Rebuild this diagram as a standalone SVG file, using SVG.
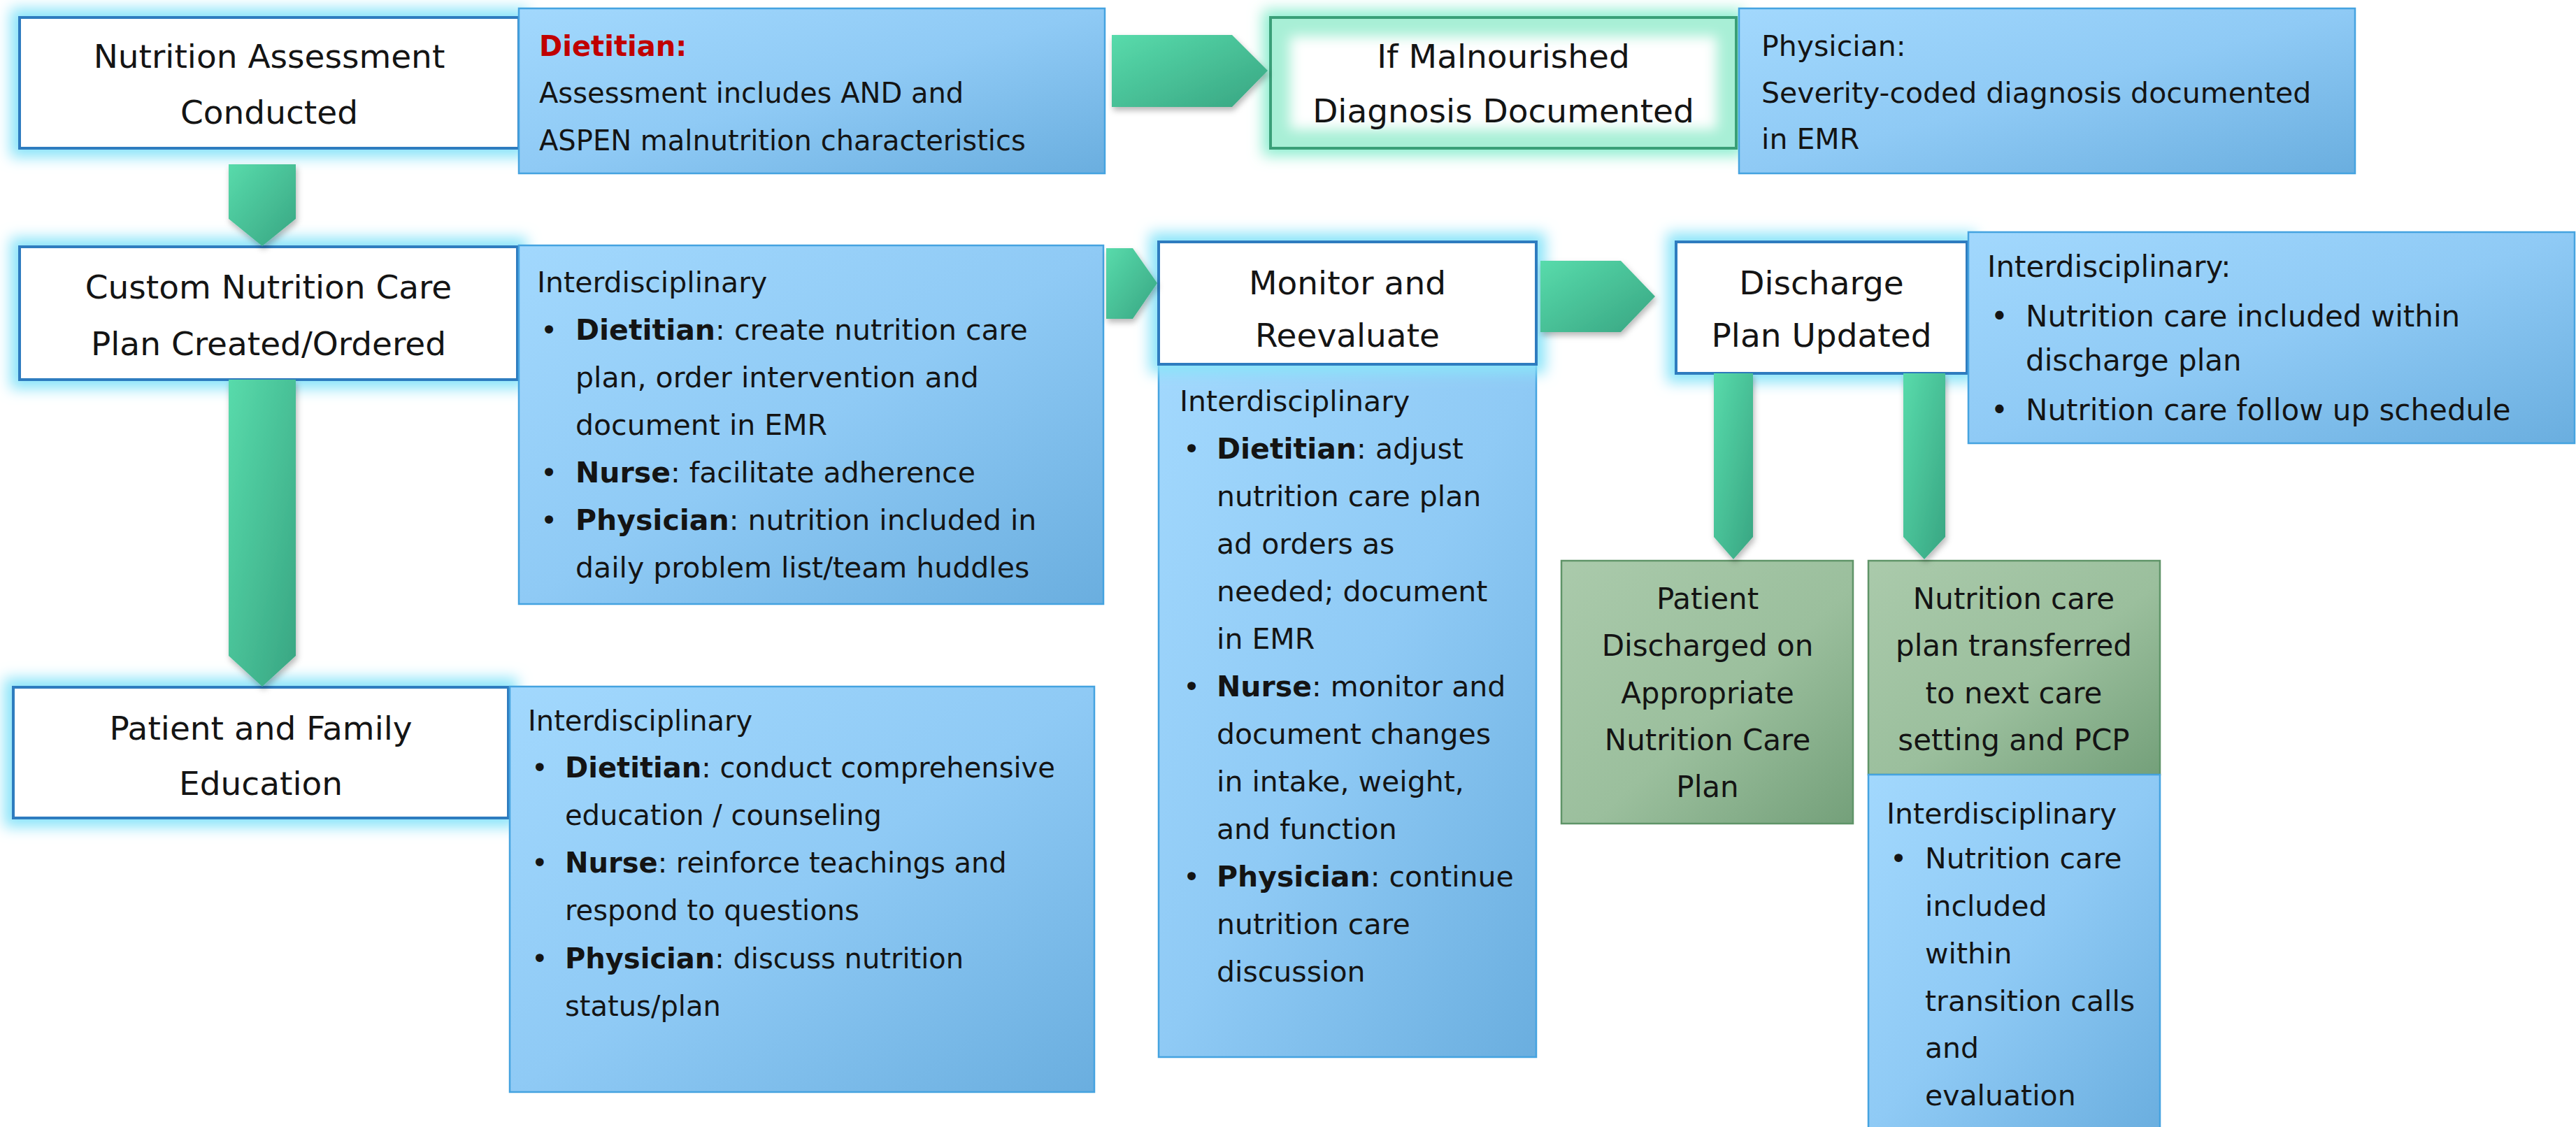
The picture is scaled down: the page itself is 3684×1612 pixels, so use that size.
<svg xmlns="http://www.w3.org/2000/svg" width="3684" height="1612" viewBox="0 0 3684 1612">
<style>
.t{font-family:"DejaVu Sans","Liberation Sans",sans-serif;fill:#141414}
.title{font-size:47px;text-anchor:middle}
.body{font-size:41px}
.body40{font-size:40px}
.body42{font-size:42px}
.g{font-size:42px;text-anchor:middle}
.b{font-weight:bold}
.wbox{fill:#ffffff;stroke:#2f7cbf;stroke-width:4}
.blue{fill:url(#blueGrad);stroke:#45a3e0;stroke-width:2.5}
.green{fill:url(#greenGrad);stroke:#5f9468;stroke-width:2.5}
.arrow{fill:url(#arrowGrad);filter:url(#shadow)}
</style>
<defs>
<linearGradient id="blueGrad" x1="0" y1="0" x2="1" y2="1">
<stop offset="0" stop-color="#a2d8fd"/>
<stop offset="0.5" stop-color="#8fcaf5"/>
<stop offset="1" stop-color="#6aaedf"/>
</linearGradient>
<linearGradient id="greenGrad" x1="0" y1="0" x2="1" y2="1">
<stop offset="0" stop-color="#aacaab"/>
<stop offset="0.55" stop-color="#9bbf9d"/>
<stop offset="1" stop-color="#74a07a"/>
</linearGradient>
<linearGradient id="arrowGrad" x1="0" y1="0" x2="1" y2="1">
<stop offset="0" stop-color="#58dbab"/>
<stop offset="1" stop-color="#38a582"/>
</linearGradient>
<filter id="glowBlue" x="-15%" y="-35%" width="130%" height="170%">
<feMorphology in="SourceAlpha" operator="dilate" radius="11" result="d"/>
<feGaussianBlur in="d" stdDeviation="10" result="bl"/>
<feFlood flood-color="#8ae4f9"/>
<feComposite in2="bl" operator="in" result="gl"/>
<feMerge><feMergeNode in="gl"/><feMergeNode in="SourceGraphic"/></feMerge>
</filter>
<filter id="glowGreen" x="-15%" y="-35%" width="130%" height="170%">
<feMorphology in="SourceAlpha" operator="dilate" radius="11" result="d"/>
<feGaussianBlur in="d" stdDeviation="10" result="bl"/>
<feFlood flood-color="#8eeed0"/>
<feComposite in2="bl" operator="in" result="gl"/>
<feMerge><feMergeNode in="gl"/><feMergeNode in="SourceGraphic"/></feMerge>
</filter>
<filter id="soft" x="-20%" y="-20%" width="140%" height="140%">
<feGaussianBlur stdDeviation="9"/>
</filter>
<filter id="shadow" x="-20%" y="-20%" width="140%" height="150%">
<feDropShadow dx="2" dy="5" stdDeviation="4" flood-color="#000000" flood-opacity="0.28"/>
</filter>
</defs>

<rect x="0" y="0" width="3684" height="1612" fill="#ffffff"/>

<!-- Row 1 -->
<g id="node-assessment">
<rect class="wbox" x="28" y="25" width="714" height="187" filter="url(#glowBlue)"/>
<text class="t title" x="385" y="97">Nutrition Assessment</text>
<text class="t title" x="385" y="177">Conducted</text>
</g>
<g id="info-dietitian">
<rect class="blue" x="742" y="12" width="838" height="236"/>
<text class="t body40 b" x="771" y="80" style="fill:#c00000">Dietitian:</text>
<text class="t body40" x="771" y="147">Assessment includes AND and</text>
<text class="t body40" x="771" y="215">ASPEN malnutrition characteristics</text>
</g>
<g id="node-malnourished">
<rect x="1817" y="25" width="666" height="187" fill="#a8efd6" filter="url(#glowGreen)"/>
<rect x="1845" y="52" width="610" height="133" fill="#ffffff" filter="url(#soft)"/>
<rect x="1817" y="25" width="666" height="187" fill="none" stroke="#3a9f78" stroke-width="4"/>
<text class="t title" x="2150" y="97">If Malnourished</text>
<text class="t title" x="2150" y="175">Diagnosis Documented</text>
</g>
<g id="info-physician">
<rect class="blue" x="2487" y="12" width="881" height="236"/>
<text class="t body" x="2519" y="80">Physician:</text>
<text class="t body" x="2519" y="147">Severity-coded diagnosis documented</text>
<text class="t body" x="2519" y="213">in EMR</text>
</g>

<!-- Row 2 -->
<g id="node-careplan">
<rect class="wbox" x="28" y="353" width="712" height="190" filter="url(#glowBlue)"/>
<text class="t title" x="384" y="427">Custom Nutrition Care</text>
<text class="t title" x="384" y="508">Plan Created/Ordered</text>
</g>
<g id="info-careplan">
<rect class="blue" x="742" y="351" width="836" height="513"/>
<text class="t body" x="768" y="418">Interdisciplinary</text>
<text class="t body" x="773" y="486">•</text>
<text class="t body" x="823" y="486"><tspan class="b">Dietitian</tspan>: create nutrition care</text>
<text class="t body" x="823" y="554">plan, order intervention and</text>
<text class="t body" x="823" y="622">document in EMR</text>
<text class="t body" x="773" y="690">•</text>
<text class="t body" x="823" y="690"><tspan class="b">Nurse</tspan>: facilitate adherence</text>
<text class="t body" x="773" y="758">•</text>
<text class="t body" x="823" y="758"><tspan class="b">Physician</tspan>: nutrition included in</text>
<text class="t body" x="823" y="826">daily problem list/team huddles</text>
</g>

<g id="node-monitor">
<rect class="blue" x="1657" y="521" width="540" height="991"/>
<rect class="wbox" x="1657" y="346" width="540" height="175" filter="url(#glowBlue)"/>
<text class="t title" x="1927" y="421">Monitor and</text>
<text class="t title" x="1927" y="496">Reevaluate</text>
<text class="t body" x="1687" y="588">Interdisciplinary</text>
<text class="t body" x="1692" y="656">•</text>
<text class="t body" x="1740" y="656"><tspan class="b">Dietitian</tspan>: adjust</text>
<text class="t body" x="1740" y="724">nutrition care plan</text>
<text class="t body" x="1740" y="792">ad orders as</text>
<text class="t body" x="1740" y="860">needed; document</text>
<text class="t body" x="1740" y="928">in EMR</text>
<text class="t body" x="1692" y="996">•</text>
<text class="t body" x="1740" y="996"><tspan class="b">Nurse</tspan>: monitor and</text>
<text class="t body" x="1740" y="1064">document changes</text>
<text class="t body" x="1740" y="1132">in intake, weight,</text>
<text class="t body" x="1740" y="1200">and function</text>
<text class="t body" x="1692" y="1268">•</text>
<text class="t body" x="1740" y="1268"><tspan class="b">Physician</tspan>: continue</text>
<text class="t body" x="1740" y="1336">nutrition care</text>
<text class="t body" x="1740" y="1404">discussion</text>
</g>

<g id="node-discharge">
<rect class="wbox" x="2397" y="346" width="416" height="188" filter="url(#glowBlue)"/>
<text class="t title" x="2605" y="421">Discharge</text>
<text class="t title" x="2605" y="496">Plan Updated</text>
</g>
<g id="info-discharge">
<rect class="blue" x="2815" y="332" width="867" height="302"/>
<text class="t body42" x="2842" y="396">Interdisciplinary:</text>
<text class="t body42" x="2847" y="467">•</text>
<text class="t body42" x="2897" y="467">Nutrition care included within</text>
<text class="t body42" x="2897" y="530">discharge plan</text>
<text class="t body42" x="2847" y="601">•</text>
<text class="t body42" x="2897" y="601">Nutrition care follow up schedule</text>
</g>

<g id="node-discharged">
<rect class="green" x="2233" y="802" width="417" height="376"/>
<text class="t g" x="2442" y="871">Patient</text>
<text class="t g" x="2442" y="938">Discharged on</text>
<text class="t g" x="2442" y="1006">Appropriate</text>
<text class="t g" x="2442" y="1073">Nutrition Care</text>
<text class="t g" x="2442" y="1140">Plan</text>
</g>
<g id="node-transferred">
<rect class="green" x="2672" y="802" width="417" height="306"/>
<text class="t g" x="2880" y="871">Nutrition care</text>
<text class="t g" x="2880" y="938">plan transferred</text>
<text class="t g" x="2880" y="1006">to next care</text>
<text class="t g" x="2880" y="1073">setting and PCP</text>
</g>
<g id="info-transition">
<rect class="blue" x="2672" y="1108" width="417" height="512"/>
<text class="t body" x="2698" y="1178">Interdisciplinary</text>
<text class="t body" x="2703" y="1242">•</text>
<text class="t body" x="2753" y="1242">Nutrition care</text>
<text class="t body" x="2753" y="1310">included</text>
<text class="t body" x="2753" y="1378">within</text>
<text class="t body" x="2753" y="1446">transition calls</text>
<text class="t body" x="2753" y="1513">and</text>
<text class="t body" x="2753" y="1581">evaluation</text>
</g>

<!-- Row 3 -->
<g id="node-education">
<rect class="wbox" x="19" y="983" width="708" height="187" filter="url(#glowBlue)"/>
<text class="t title" x="373" y="1058">Patient and Family</text>
<text class="t title" x="373" y="1137">Education</text>
</g>
<g id="info-education">
<rect class="blue" x="729" y="982" width="836" height="580"/>
<text class="t body40" x="755" y="1045">Interdisciplinary</text>
<text class="t body40" x="760" y="1112">•</text>
<text class="t body40" x="808" y="1112"><tspan class="b">Dietitian</tspan>: conduct comprehensive</text>
<text class="t body40" x="808" y="1180">education / counseling</text>
<text class="t body40" x="760" y="1248">•</text>
<text class="t body40" x="808" y="1248"><tspan class="b">Nurse</tspan>: reinforce teachings and</text>
<text class="t body40" x="808" y="1316">respond to questions</text>
<text class="t body40" x="760" y="1385">•</text>
<text class="t body40" x="808" y="1385"><tspan class="b">Physician</tspan>: discuss nutrition</text>
<text class="t body40" x="808" y="1453">status/plan</text>
</g>

<!-- Connectors -->
<g id="connectors">
<polygon class="arrow" points="327,235 423,235 423,313 375,352 327,313"/>
<polygon class="arrow" points="327,543 423,543 423,938 375,982 327,938"/>
<polygon class="arrow" points="1590,50 1762,50 1813,101 1762,153 1590,153"/>
<polygon class="arrow" points="1582,355 1620,355 1655,405 1620,456 1582,456"/>
<polygon class="arrow" points="2203,373 2318,373 2367,424 2318,475 2203,475"/>
<polygon class="arrow" points="2451,534 2507,534 2507,768 2479,800 2451,768"/>
<polygon class="arrow" points="2722,534 2782,534 2782,768 2752,800 2722,768"/>
</g>
</svg>
